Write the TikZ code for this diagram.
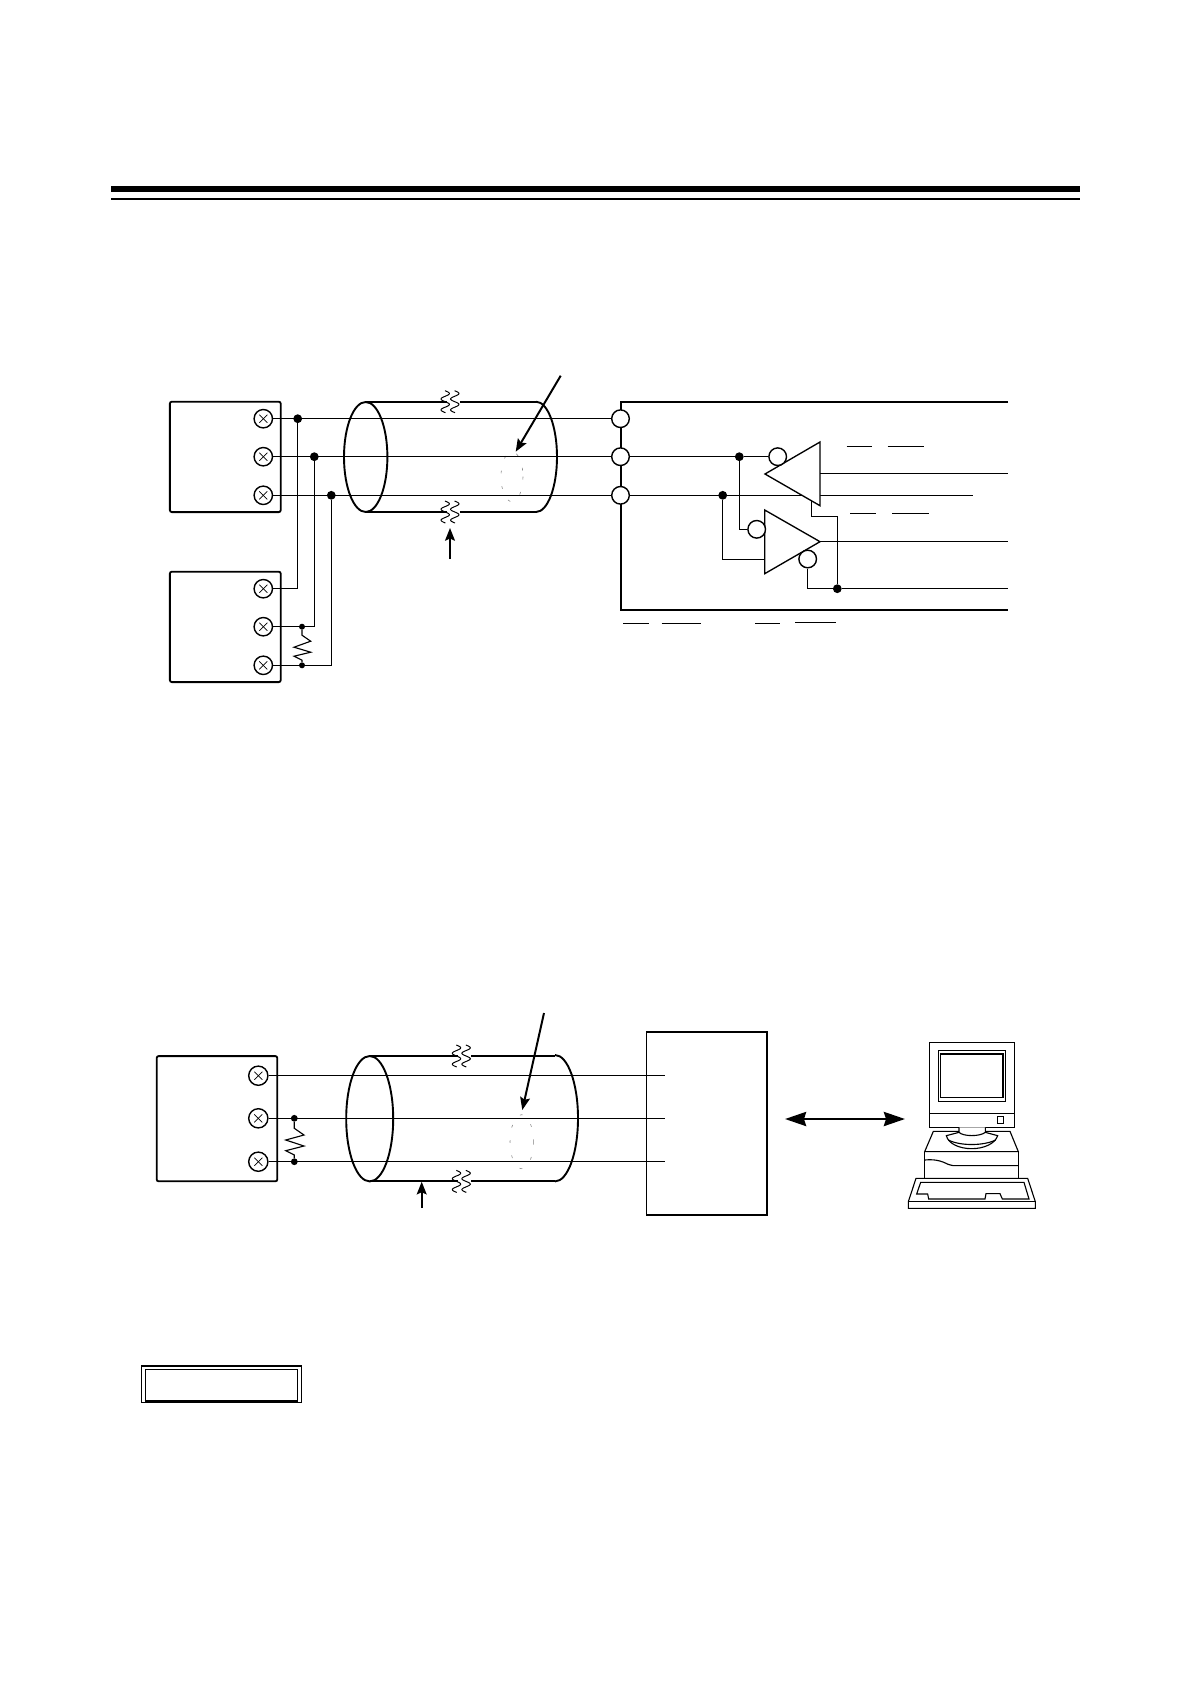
\documentclass[tikz,border=0pt]{standalone}
\usepackage{amsmath}
\usetikzlibrary{arrows.meta}

\tikzset{
	wire/.style={line width=.95pt},
	heavy/.style={line width=1.3pt},
	shield/.style={line width=1.35pt},
	thinpart/.style={line width=.8pt},
	pointer/.style={line width=1.4pt,-{Stealth[length=9pt,width=7pt,inset=1.5pt]}},
	hidden/.style={line width=.4pt,gray,dash pattern=on 2pt off 9pt},
	terminal/.style={circle,draw,line width=1pt,fill=white,minimum size=.46cm,inner sep=0pt,
		path picture={\draw[line width=.5pt] ([shift={(-.1cm,-.1cm)}]path picture bounding box.center) -- ([shift={(.1cm,.1cm)}]path picture bounding box.center);
			\draw[line width=.5pt] ([shift={(-.1cm,.1cm)}]path picture bounding box.center) -- ([shift={(.1cm,-.1cm)}]path picture bounding box.center);}},
	port/.style={circle,draw,line width=1pt,fill=white,minimum size=.44cm,inner sep=0pt},
	bubble/.style={circle,draw,line width=1pt,fill=white,minimum size=.44cm,inner sep=0pt},
	dot/.style={circle,fill=black,minimum size=.22cm,inner sep=0pt},
	smalldot/.style={circle,fill=black,minimum size=.15cm,inner sep=0pt},
	devbox/.style={draw,heavy,rounded corners=.05cm,inner sep=0pt},
	wavecut/.pic={
		\draw[line width=.7pt,domain=-11:11,samples=50,smooth] plot ({-4.8+4.2*sin(\x*33)},{\x});
		\draw[line width=.7pt,domain=-11:11,samples=50,smooth] plot ({4.8+4.2*sin(\x*33)},{\x});
	}
}

\begin{document}
\begin{tikzpicture}[x=.025cm,y=-.025cm]
	\useasboundingbox (0,0) rectangle (1190,1684);

	% head rule
	\coordinate (rule1a) at (111,189);
	\coordinate (rule1b) at (1080,189);
	\coordinate (rule2a) at (111,199);
	\coordinate (rule2b) at (1080,199);
	\draw[line width=4.3pt] (rule1a) -- (rule1b);
	\draw[line width=1.4pt] (rule2a) -- (rule2b);

	% upper devices
	\node[devbox,minimum width=2.77cm,minimum height=2.76cm] (dev1) at (225.3,456.9){};
	\node[devbox,minimum width=2.77cm,minimum height=2.76cm] (dev2) at (225.3,626.9){};
	\node[terminal] (t1) at (263.3,418.7){};
	\node[terminal] (t2) at (263.3,456.7){};
	\node[terminal] (t3) at (263.3,495.3){};
	\node[terminal] (t4) at (263.3,588.7){};
	\node[terminal] (t5) at (263.3,626.7){};
	\node[terminal] (t6) at (263.3,665.3){};

	% upper cable
	\draw[shield] (365.7,457) ellipse (21.7 and 55);
	\draw[shield] (365.7,401.7) -- (447,401.7);
	\draw[shield] (460,401.7) -- (536,401.7);
	\draw[shield] (365.7,512) -- (447,512);
	\draw[shield] (460,512) -- (536,512);
	\draw[shield] (536,401.7) arc (90:-90:21 and -55.15);
	\pic at (450,401.7) {wavecut};
	\pic at (450,512) {wavecut};
	\draw[hidden] (512,476.7) ellipse (11 and 25);
	\coordinate (note1a) at (560.7,375.7);
	\coordinate (note1b) at (515.7,451.7);
	\coordinate (note2a) at (450,559);
	\coordinate (note2b) at (450,528);
	\draw[pointer] (note1a) -- (note1b);
	\draw[pointer] (note2a) -- (note2b);

	% receiver frame
	\coordinate (fr1) at (1008,402);
	\coordinate (fr2) at (620.7,402);
	\coordinate (fr3) at (620.7,610.3);
	\coordinate (fr4) at (1008,610.3);
	\draw[line width=1.5pt] (fr1) -- (fr2) -- (fr3) -- (fr4);
	\node[port] (p1) at (620.5,418.7){};
	\node[port] (p2) at (620.5,456.7){};
	\node[port] (p3) at (620.5,495.3){};

	% bus
	\node[dot] (d1) at (297.7,418.7){};
	\node[dot] (d2) at (314.3,456.7){};
	\node[dot] (d3) at (331.3,495.3){};
	\node[smalldot] (d4) at (302,626.7){};
	\node[smalldot] (d5) at (302,665.3){};
	\draw[wire] (t1) -- (p1);
	\draw[wire] (t2) -- (p2);
	\draw[wire] (t3) -- (p3);
	\draw[wire] (d1) |- (t4);
	\draw[wire] (d2) |- (t5);
	\draw[wire] (d3) |- (t6);
	\draw[thinpart] (d4) -- ++(0,8.5) -- ++(8.7,6) -- ++(-16.7,6) -- ++(16.7,5) -- ++(-16.7,4) -- ++(8,4) -- (d5);

	% line driver and receiver
	\node[dot] (d6) at (739.3,456.7){};
	\node[dot] (d7) at (722.7,495.3){};
	\node[dot] (d8) at (837.3,588.7){};
	\coordinate (end2) at (973,495.3);
	\draw[wire] (p3) -- (end2);
	\draw[wire,fill=white] (765,474) -- (820,442) -- (820,505.7) -- cycle;
	\draw[wire,fill=white] (764.7,510) -- (820,541.7) -- (764.7,573.7) -- cycle;
	\node[bubble] (b1) at (777.7,456.7){};
	\node[bubble] (b2) at (756.7,529.3){};
	\node[bubble] (b3) at (807.7,559){};
	\coordinate (ti1) at (820,473.3);
	\coordinate (ti2) at (820,541.7);
	\coordinate (ti3) at (764.7,559.3);
	\coordinate (ti4) at (811.7,501);
	\coordinate (out1) at (1008,473.3);
	\coordinate (out2) at (1008,541.7);
	\coordinate (out3) at (1008,588.7);
	\draw[wire] (p2) -- (d6) -- (b1);
	\draw[wire] (d6) |- (b2);
	\draw[wire] (d7) |- (ti3);
	\draw[wire] (ti1) -- (out1);
	\draw[wire] (ti2) -- (out2);
	\draw[wire] (b3) |- (d8) -- (out3);
	\draw[wire] (ti4) |- (837.3,516.3) -- (d8);

	% bars left from the terminal names
	\coordinate (bar1a) at (846.7,446.3);
	\coordinate (bar1b) at (872,446.3);
	\coordinate (bar2a) at (887.7,446.3);
	\coordinate (bar2b) at (924,446.3);
	\coordinate (bar3a) at (850.3,513.3);
	\coordinate (bar3b) at (876,513.3);
	\coordinate (bar4a) at (892.3,513.3);
	\coordinate (bar4b) at (929,513.3);
	\coordinate (bar5a) at (623.3,623.3);
	\coordinate (bar5b) at (649.3,623.3);
	\coordinate (bar6a) at (661.7,623.3);
	\coordinate (bar6b) at (701,623.3);
	\coordinate (bar7a) at (755,623.3);
	\coordinate (bar7b) at (780,623.3);
	\coordinate (bar8a) at (795,622.3);
	\coordinate (bar8b) at (836,622.3);
	\draw[wire] (bar1a) -- (bar1b);
	\draw[wire] (bar2a) -- (bar2b);
	\draw[wire] (bar3a) -- (bar3b);
	\draw[wire] (bar4a) -- (bar4b);
	\draw[wire] (bar5a) -- (bar5b);
	\draw[wire] (bar6a) -- (bar6b);
	\draw[wire] (bar7a) -- (bar7b);
	\draw[wire] (bar8a) -- (bar8b);

	% lower device
	\node[devbox,minimum width=3.015cm,minimum height=3.13cm] (dev3) at (217,1118.7){};
	\node[terminal,minimum size=.48cm] (t7) at (258.3,1075.7){};
	\node[terminal,minimum size=.48cm] (t8) at (258.3,1118.3){};
	\node[terminal,minimum size=.48cm] (t9) at (258.3,1161.7){};
	\node[smalldot,minimum size=.17cm] (d9) at (294.3,1118.3){};
	\node[smalldot,minimum size=.17cm] (d10) at (294.3,1161.7){};
	\draw[thinpart] (d9) -- ++(0,10) -- ++(9.7,6.7) -- ++(-18.3,5) -- ++(18.3,6) -- ++(-18.3,4.7) -- ++(8.6,4.3) -- (d10);

	% lower cable
	\draw[shield] (369.7,1118.7) ellipse (23.5 and 62.7);
	\draw[shield] (369.7,1056) -- (458,1056);
	\draw[shield] (471,1056) -- (555,1056);
	\draw[shield] (369.7,1181.4) -- (458,1181.4);
	\draw[shield] (471,1181.4) -- (555,1181.4);
	\draw[shield] (555,1055) arc (90:-90:23 and -63.2);
	\pic at (461.3,1056) {wavecut};
	\pic at (461.3,1181.4) {wavecut};
	\draw[hidden] (521.7,1141.7) ellipse (11.7 and 27);
	\coordinate (w1) at (665,1075.7);
	\coordinate (w2) at (665,1118.3);
	\coordinate (w3) at (665,1161.7);
	\draw[wire] (t7) -- (w1);
	\draw[wire] (t8) -- (w2);
	\draw[wire] (t9) -- (w3);
	\coordinate (note3a) at (544,1013);
	\coordinate (note3b) at (522.3,1110);
	\coordinate (note4a) at (421.7,1208);
	\coordinate (note4b) at (421.7,1181.7);
	\draw[pointer] (note3a) -- (note3b);
	\draw[pointer] (note4a) -- (note4b);

	% converter and link
	\node[devbox,rounded corners=0pt,minimum width=3.01cm,minimum height=4.575cm] (conv) at (706.7,1123.5){};
	\coordinate (link1) at (785,1119);
	\coordinate (link2) at (905,1119);
	\draw[line width=1.9pt,{Stealth[length=15pt,width=10pt,inset=1.5pt]}-{Stealth[length=15pt,width=10pt,inset=1.5pt]}] (link1) -- (link2);

	% computer
	\begin{scope}[shift={(880,1020)},x=.00833cm,y=-.00833cm,line width=.8pt]
		\draw (148,67) rectangle (404,322);
		\draw (148,280) -- (404,280);
		\draw (175,92) rectangle (377,244);
		\draw (181,102) rectangle (369,233);
		\draw (352,289) rectangle (371,310);
		\draw (160,334) -- (390,334) -- (415,395) -- (134,395) -- cycle;
		\draw (134,395) -- (134,475);
		\draw (415,395) -- (415,475);
		\draw (134,420) .. controls (190,415) and (200,437) .. (220,437) -- (415,437);
		\draw[fill=white] (237,322) -- (237,337) -- (199,347) .. controls (205,372) and (240,386) .. (275,386) .. controls (310,386) and (345,372) .. (353,347) -- (316,337) -- (316,322);
		\draw (237,337) .. controls (250,350) and (300,350) .. (316,337);
		\draw (205,360) .. controls (240,378) and (310,378) .. (347,360);
		\draw (108,475) -- (443,475) -- (466,545) -- (466,565) -- (85,565) -- (85,545) -- cycle;
		\draw (85,545) -- (466,545);
		\draw (122,487) -- (432,487) -- (447,537) -- (367,537) -- (360,521) -- (318,521) -- (315,537) -- (146,537) -- (143,522) -- (110,522) -- cycle;
	\end{scope}

	% empty double frame
	\node[draw,line width=1.1pt,minimum width=4cm,minimum height=.91cm,inner sep=0pt] (frameout) at (221.4,1384.3){};
	\node[draw,line width=.8pt,minimum width=3.81cm,minimum height=.77cm,inner sep=0pt] (framein) at (221.5,1384.7){};
	\draw[line width=1.2pt] (framein.south west) -- (framein.south east);
\end{tikzpicture}
\end{document}
